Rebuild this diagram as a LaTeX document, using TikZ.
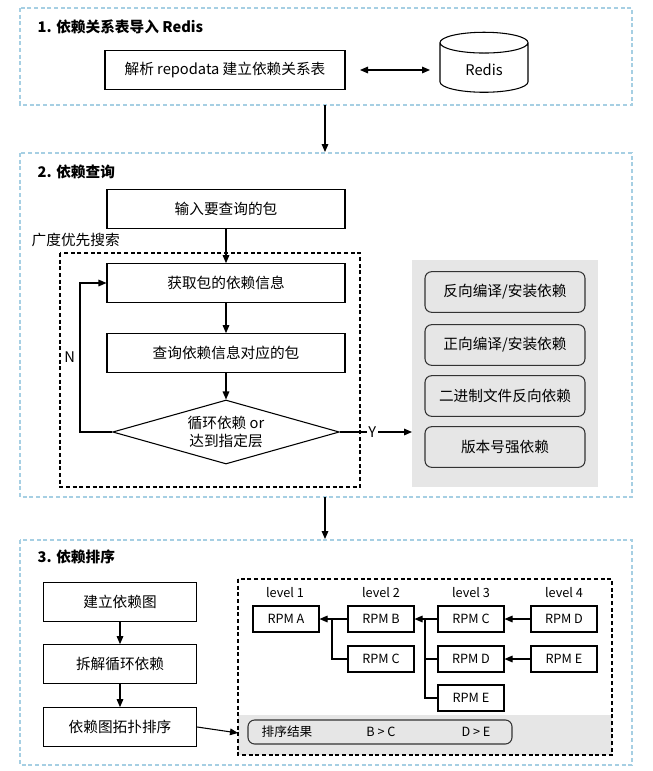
\documentclass[tikz,border=0pt]{standalone}
\usepackage{fontspec}
\setmainfont{Noto Sans CJK SC}
\usetikzlibrary{arrows.meta,positioning,shapes.geometric,fit}
\definecolor{secblue}{HTML}{A6CFE3}
\definecolor{panelgray}{HTML}{E6E6E6}
\tikzset{
  section/.style={draw=secblue, thick, dash pattern=on 3pt off 2pt},
  procbox/.style={rectangle, draw=black, thick, fill=white, minimum width=178.5pt, minimum height=29pt, font=\fontsize{11}{13}\selectfont},
  side/.style={rectangle, rounded corners=5pt, draw=black!80, thick, fill=panelgray, minimum width=120pt, minimum height=30.5pt, font=\fontsize{11}{13}\selectfont},
  rpm/.style={rectangle, draw=black, thick, fill=white, minimum width=49.5pt, minimum height=19.5pt, inner sep=1pt, font=\fontsize{9.5}{11}\selectfont},
  lvl/.style={font=\fontsize{9.5}{11}\selectfont},
  flow/.style={-{Triangle[length=6pt,width=5pt]}, thick},
  title/.style={anchor=west, font=\bfseries\fontsize{11}{13}\selectfont},
}
\begin{document}
\begin{tikzpicture}[x=0.75pt, y=-0.75pt]
\useasboundingbox (0,0) rectangle (653,771);

% Section frames
\draw[section] (20,8) rectangle (632,105);
\draw[section] (20,153) rectangle (632,497);
\draw[section] (20,540) rectangle (632,765);
\node[title] (t1) at (33,27) {1. 依赖关系表导入 Redis};
\node[title] (t2) at (33,172) {2. 依赖查询};
\node[title] (t3) at (33,557) {3. 依赖排序};

% Section 1
\node[procbox, minimum width=180pt] (parse) at (225,70) {解析 repodata 建立依赖关系表};
\node[cylinder, shape border rotate=90, draw=black, thick, aspect=0.45, minimum width=66pt, minimum height=45pt, font=\fontsize{11}{13}\selectfont] (redis) at (484,70) {\raisebox{-6pt}{Redis}};
\coordinate (p1) at (360,70);
\coordinate (p2) at (430,70);
\draw[{Triangle[length=6pt,width=5pt]}-{Triangle[length=6pt,width=5pt]}, thick] (p1) -- (p2);
\coordinate (s1) at (325,105);
\coordinate (s2) at (325,152);
\draw[flow] (s1) -- (s2);

% Section 2
\node[procbox] (input) at (226,209) {输入要查询的包};
\node[anchor=west, font=\fontsize{11}{13}\selectfont] (bfs) at (27,240) {广度优先搜索};
\draw[thick, dash pattern=on 3pt off 2pt] (60,253) rectangle (360,487);
\node[procbox] (fetch) at (226,283) {获取包的依赖信息};
\node[procbox] (query) at (226,353) {查询依赖信息对应的包};
\node[diamond, draw=black, thick, fill=white, aspect=3.5, minimum width=170pt, minimum height=48pt, inner sep=0pt, align=center, font=\fontsize{11}{13}\selectfont] (check) at (226,432) {循环依赖 or\\达到指定层};
\draw[flow] (input) -- (fetch);
\draw[flow] (fetch) -- (query);
\draw[flow] (query) -- (check);
\draw[flow] (check.west) -- (80,432) -- node[left, font=\fontsize{11}{13}\selectfont] {N} (80,283) -- (fetch.west);

\fill[panelgray] (412,260) rectangle (598,487);
\coordinate (panel) at (412,432);
\draw[flow] (check.east) -- node[pos=0.45, fill=white, inner sep=1pt, font=\fontsize{11}{13}\selectfont] {Y} (panel);
\node[side] (rev) at (505,292) {反向编译/安装依赖};
\node[side] (fwd) at (505,345) {正向编译/安装依赖};
\node[side] (bin) at (505,396) {二进制文件反向依赖};
\node[side] (ver) at (505,447) {版本号强依赖};
\coordinate (s3) at (325,497);
\coordinate (s4) at (325,539);
\draw[flow] (s3) -- (s4);

% Section 3
\node[procbox, minimum width=115pt] (graph) at (120,602) {建立依赖图};
\node[procbox, minimum width=115pt] (cycle) at (120,664) {拆解循环依赖};
\node[procbox, minimum width=115pt] (topo) at (120,727) {依赖图拓扑排序};
\draw[flow] (graph) -- (cycle);
\draw[flow] (cycle) -- (topo);

\fill[panelgray] (238,715) rectangle (612,755);
\draw[thick, dash pattern=on 3pt off 2pt] (238,579) rectangle (612,755);
\coordinate (res) at (238,733);
\draw[flow] (topo.east) -- (res);

\foreach \n/\x in {1/285, 2/381, 3/471, 4/564} {
  \node[lvl] (level\n) at (\x,593) {level \n};
}
\node[rpm] (rpmA) at (286,619) {RPM A};
\node[rpm] (rpmB) at (381,619) {RPM B};
\node[rpm] (rpmC2) at (381,659) {RPM C};
\node[rpm] (rpmC) at (471,619) {RPM C};
\node[rpm] (rpmD) at (471,659) {RPM D};
\node[rpm] (rpmE) at (471,698) {RPM E};
\node[rpm] (rpmD4) at (564,619) {RPM D};
\node[rpm] (rpmE4) at (564,659) {RPM E};

\draw[flow] (rpmB.west) -- (rpmA.east);
\draw[thick] (rpmC2.west) -| (332,619);
\draw[flow] (rpmC.west) -- (rpmB.east);
\draw[thick] (rpmD.west) -| (425,619);
\draw[thick] (rpmE.west) -| (425,619);
\draw[flow] (rpmD4.west) -- (rpmC.east);
\draw[flow] (rpmE4.west) -- (rpmD.east);

\node[rectangle, rounded corners=5pt, draw=black!80, thick, minimum width=198pt, minimum height=18pt] (result) at (380,732) {};
\node[lvl] (rlabel) at (287,732) {排序结果};
\node[lvl] (r1) at (381,732) {B > C};
\node[lvl] (r2) at (476,732) {D > E};
\end{tikzpicture}
\end{document}
